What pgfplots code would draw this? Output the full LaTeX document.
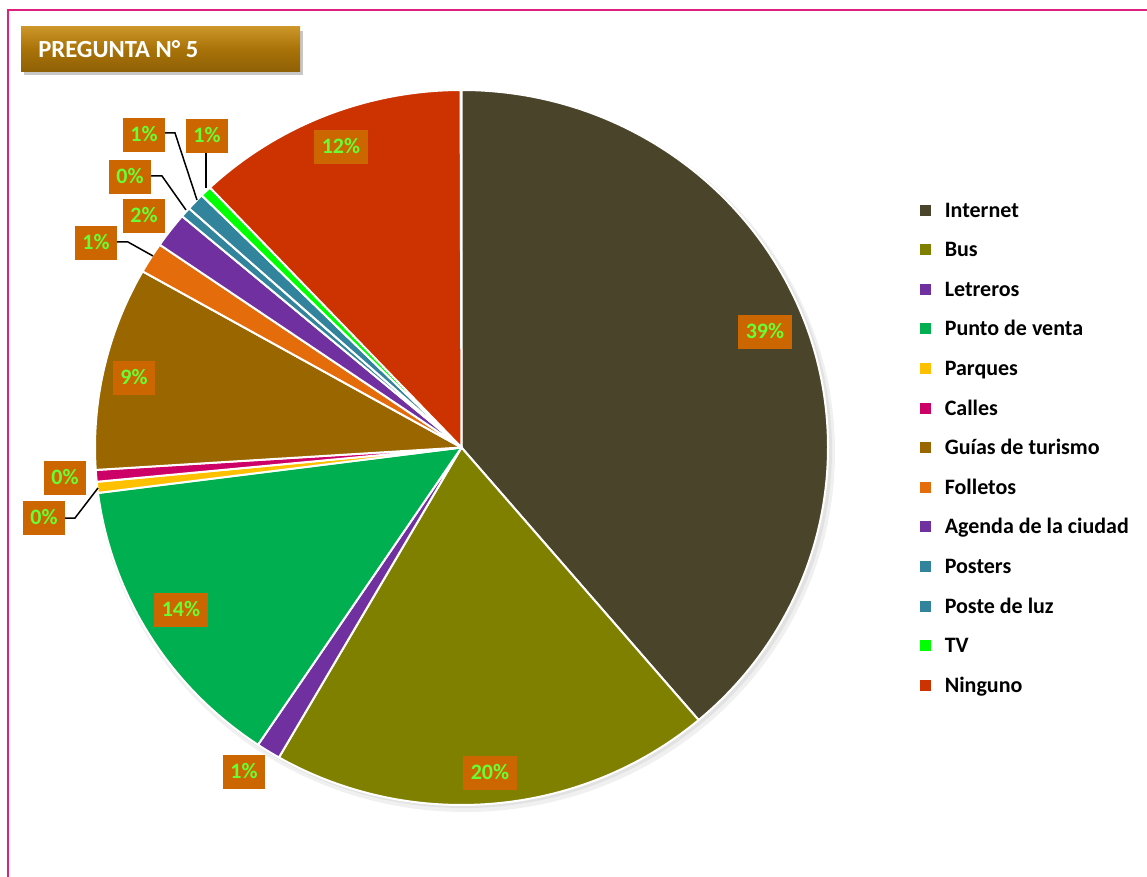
\documentclass[border=0pt]{standalone}
\usepackage{pgfplots}
\usepackage{pgfplotstable}
\pgfplotsset{compat=1.18}
\usepackage{fontspec}
\setmainfont{Carlito}
\definecolor{c0}{HTML}{4A452A}
\definecolor{c1}{HTML}{808000}
\definecolor{c2}{HTML}{7030A0}
\definecolor{c3}{HTML}{00B050}
\definecolor{c4}{HTML}{FFC000}
\definecolor{c5}{HTML}{CC0066}
\definecolor{c6}{HTML}{996600}
\definecolor{c7}{HTML}{E46C0A}
\definecolor{c8}{HTML}{7030A0}
\definecolor{c9}{HTML}{31849B}
\definecolor{c10}{HTML}{31849B}
\definecolor{c11}{HTML}{00FF00}
\definecolor{c12}{HTML}{CC3300}
\definecolor{boxor}{HTML}{CC6600}
\definecolor{labgreen}{HTML}{66FF33}
\definecolor{frame}{HTML}{E0207F}
\definecolor{goldtop}{HTML}{CB9528}
\definecolor{goldmid}{HTML}{A87208}
\definecolor{goldbot}{HTML}{8E6006}

% share (percent), label shown, label centre (px)
\pgfplotstableread[col sep=comma]{
name,value,label,lx,ly
Internet,38.8,39,765,332
Bus,19.5,20,490,773
Letreros,1.07,1,244,772
Punto de venta,13.6,14,181,610
Parques,0.5,0,44,518
Calles,0.53,0,65,478
Guias de turismo,9.2,9,134,378
Folletos,1.4,1,96,243
Agenda de la ciudad,1.6,2,144,216
Posters,0.46,0,130,177
Poste de luz,0.8,1,144,135
TV,0.5,1,207,136
Ninguno,12.0,12,341,147
}\piedata

\newcommand{\sq}[1]{\addlegendimage{legend image code/.code={\fill[#1] (0pt,-2.5pt) rectangle (5pt,2.5pt);}}}

\begin{document}
\begin{tikzpicture}
\gdef\startang{0}
\begin{axis}[
  x=0.5pt, y=0.5pt, y dir=reverse,
  xmin=0, xmax=1147, ymin=0, ymax=877,
  hide axis, clip=false,
  legend cell align=left,
  legend style={draw=none, fill=none, inner sep=0pt, outer sep=0pt,
    at={(axis cs:920,203)}, anchor=north west,
    font=\bfseries\fontsize{11}{13}\selectfont,
    nodes={inner sep=0pt, text height=7pt, text depth=0pt},
    row sep=12.8pt,
    /tikz/every odd column/.append style={column sep=7pt}},
]
\coordinate (BL) at (axis cs:0,877);
\coordinate (TR) at (axis cs:1147,0);
% frame
\draw[frame, line width=1pt] (axis cs:8,877) -- (axis cs:8,10) -- (axis cs:1147,10);
% title
\fill[black, opacity=0.22] (axis cs:24,31) rectangle (axis cs:303,75);
\shade[top color=goldtop, bottom color=goldbot, middle color=goldmid] (axis cs:21,27) rectangle (axis cs:300,72);
\node[anchor=west, text=white, font=\bfseries\fontsize{12.3}{14}\selectfont, inner sep=0pt] at (axis cs:38,49.5) {PREGUNTA N° 5};
% shadow
\fill[black, opacity=0.06] (axis cs:465,452) ellipse [x radius=185pt, y radius=180pt];
\fill[black, opacity=0.06] (axis cs:464,450) ellipse [x radius=184pt, y radius=179pt];
% slices
\pgfplotsinvokeforeach{0,...,12}{
  \pgfplotstablegetelem{#1}{value}\of\piedata
  \pgfmathsetmacro\endang{\startang+\pgfplotsretval*3.6}
  \pgfmathsetmacro\sa{90-\startang}
  \pgfmathsetmacro\ea{90-\endang}
  \edef\doit{\noexpand\fill[c#1, draw=white, line width=1pt, line join=round] (axis cs:461.5,447.5) -- ++(\sa:183.25pt and 178.75pt) arc[start angle=\sa, end angle=\ea, x radius=183.25pt, y radius=178.75pt] -- cycle;}
  \doit
  \global\let\startang\endang
}
% leader lines
\draw[black, line width=0.75pt] (axis cs:65,518) -- (axis cs:75,518) -- (axis cs:98,488);
\draw[black, line width=0.75pt] (axis cs:117,242) -- (axis cs:128,242) -- (axis cs:153,256);
\draw[black, line width=0.75pt] (axis cs:151,176) -- (axis cs:162,176) -- (axis cs:186,210);
\draw[black, line width=0.75pt] (axis cs:165,133) -- (axis cs:175,133) -- (axis cs:197,200);
\draw[black, line width=0.75pt] (axis cs:206,153) -- (axis cs:206,188);
% labels
\pgfplotsinvokeforeach{0,...,12}{
  \pgfplotstablegetelem{#1}{label}\of\piedata
  \let\lab\pgfplotsretval
  \pgfplotstablegetelem{#1}{lx}\of\piedata
  \let\lx\pgfplotsretval
  \pgfplotstablegetelem{#1}{ly}\of\piedata
  \let\ly\pgfplotsretval
  \edef\doit{\noexpand\node[fill=boxor, text=labgreen, font=\noexpand\bfseries\noexpand\fontsize{11}{13}\noexpand\selectfont, inner xsep=3.7pt, inner ysep=0pt, minimum height=16.75pt, text height=6.9pt, text depth=0pt] at (axis cs:\lx,\ly) {\lab\noexpand\%};}
  \doit
}
% legend
\sq{c0}\addlegendentry{Internet}
\sq{c1}\addlegendentry{Bus}
\sq{c2}\addlegendentry{Letreros}
\sq{c3}\addlegendentry{Punto de venta}
\sq{c4}\addlegendentry{Parques}
\sq{c5}\addlegendentry{Calles}
\sq{c6}\addlegendentry{Guías de turismo}
\sq{c7}\addlegendentry{Folletos}
\sq{c8}\addlegendentry{Agenda de la ciudad}
\sq{c9}\addlegendentry{Posters}
\sq{c10}\addlegendentry{Poste de luz}
\sq{c11}\addlegendentry{TV}
\sq{c12}\addlegendentry{Ninguno}
\end{axis}
\pgfresetboundingbox
\path (BL) rectangle (TR);
\end{tikzpicture}
\end{document}
